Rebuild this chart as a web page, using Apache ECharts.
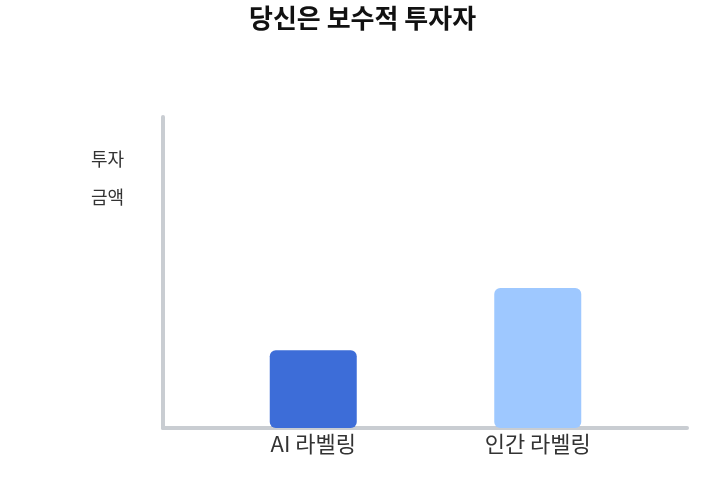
<!DOCTYPE html>
<html>
<head>
    <meta http-equiv="Content-Type" content="text/html; charset=UTF-8">
    <script src="https://cdn.jsdelivr.net/npm/echarts@6/dist/echarts.min.js"></script>
    <style>
        html, body { margin: 0; padding: 0; background: #fff; }
        #container { width: 714px; height: 502px; }
    </style>
</head>
<body>
<div id="container"></div>
<script>
// 데이터
var categories = ['AI 라벨링', '인간 라벨링'];
var values = [25, 45];
var barColors = ['#3d6dd8', '#9ec8ff'];

var myChart = echarts.init(document.getElementById('container'));
var fontFamily = '"Noto Sans CJK KR", "Noto Sans", sans-serif';

var barData = [];
for (var i = 0; i < values.length; i++) {
    barData.push({ value: values[i], itemStyle: { color: barColors[i] } });
}

var option = {
    backgroundColor: '#fff',
    animation: false,
    title: [{
        text: '당신은 보수적 투자자',
        left: 244,
        top: 0,
        textStyle: { fontFamily: fontFamily, fontSize: 26, fontWeight: 'bold', color: '#111' }
    }, {
        text: '투자\n금액',
        left: 86,
        top: 135,
        textStyle: { fontFamily: fontFamily, fontSize: 18, fontWeight: 'normal', color: '#333', lineHeight: 38 }
    }],
    // 0: 축선 프레임, 1: 막대
    grid: [
        { left: 163, right: 27, top: 117, bottom: 74 },
        { left: 201, right: 64, top: 117, bottom: 74 }
    ],
    xAxis: [{
        gridIndex: 0,
        type: 'value',
        min: 0,
        max: 1,
        axisLine: { show: true, onZero: false, lineStyle: { color: '#c9cdd2', width: 4 } },
        axisTick: { show: false },
        axisLabel: { show: false },
        splitLine: { show: false }
    }, {
        gridIndex: 1,
        type: 'category',
        data: categories,
        axisLine: { show: false },
        axisTick: { show: false },
        axisLabel: { fontFamily: fontFamily, fontSize: 22, color: '#333', margin: 5 }
    }],
    yAxis: [{
        gridIndex: 0,
        type: 'value',
        min: 0,
        max: 1,
        axisLine: { show: true, lineStyle: { color: '#c9cdd2', width: 4 } },
        axisTick: { show: false },
        axisLabel: { show: false },
        splitLine: { show: false }
    }, {
        gridIndex: 1,
        type: 'value',
        min: 0,
        max: 100,
        axisLine: { show: false },
        axisTick: { show: false },
        axisLabel: { show: false },
        splitLine: { show: false }
    }],
    series: [{
        type: 'bar',
        xAxisIndex: 1,
        yAxisIndex: 1,
        barWidth: 87,
        z: 3,
        itemStyle: { borderRadius: 6 },
        data: barData
    }]
};
myChart.setOption(option);
</script>
</body>
</html>
